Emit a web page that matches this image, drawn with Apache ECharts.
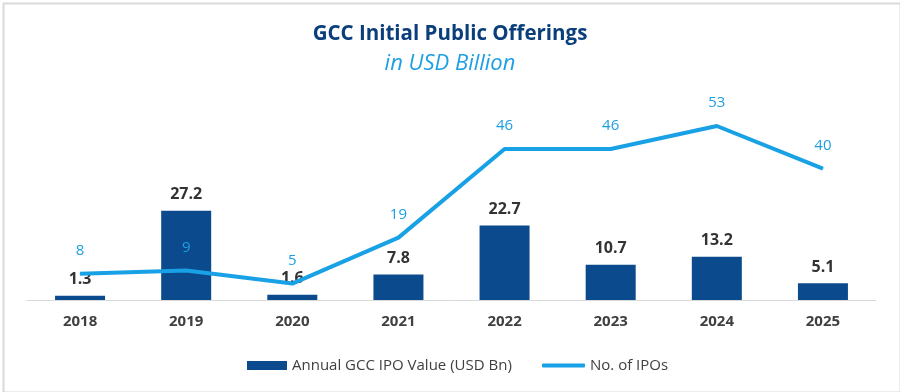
<!DOCTYPE html>
<html>
<head>
<meta charset="utf-8">
<script src="https://cdn.jsdelivr.net/npm/echarts@6/dist/echarts.min.js"></script>
<style>html,body{margin:0;padding:0;background:#fff}#c{width:900px;height:392px}</style>
</head>
<body>
<div id="c"></div>
<script>
const years = ['2018','2019','2020','2021','2022','2023','2024','2025'];
const ipoValue = [1.3, 27.2, 1.6, 7.8, 22.7, 10.7, 13.2, 5.1];
const ipoCount = [8, 9, 5, 19, 46, 46, 53, 40];

const FONT = 'Open Sans';
const BAR_NAME = 'Annual GCC IPO Value (USD Bn)';
const LINE_NAME = 'No. of IPOs';
const chart = echarts.init(document.getElementById('c'), null, {renderer: 'canvas'});
chart.setOption({
  animation: false,
  backgroundColor: '#fff',
  textStyle: {fontFamily: FONT},
  graphic: [{
    type: 'rect', left: 1, top: 1, silent: true,
    shape: {width: 897, height: 389},
    style: {fill: 'none', stroke: '#d9d9d9', lineWidth: 2}
  }],
  title: [{
    text: 'GCC Initial Public Offerings', left: 'center', top: 19,
    textStyle: {fontFamily: FONT, fontSize: 20.5, fontWeight: 'bold', color: '#0b3f7c'}
  }, {
    text: 'in USD Billion', left: 'center', top: 48,
    textStyle: {fontFamily: FONT, fontSize: 22, fontStyle: 'italic', fontWeight: 'normal', color: '#1c9fe3'}
  }],
  legend: [{
    left: 242, top: 353, itemWidth: 40, itemHeight: 9, itemGap: 0,
    textStyle: {fontFamily: FONT, fontSize: 15, color: '#404040'},
    data: [{name: BAR_NAME, icon: 'rect'}]
  }, {
    left: 537, top: 353, itemWidth: 43, itemHeight: 4, itemGap: 0,
    textStyle: {fontFamily: FONT, fontSize: 15, color: '#404040'},
    data: [{name: LINE_NAME, icon: 'roundRect'}]
  }],
  grid: {left: 27, right: 24, top: 103, bottom: 92},
  xAxis: {
    type: 'category', data: years,
    axisTick: {show: false},
    axisLine: {lineStyle: {color: '#d9d9d9', width: 1}},
    axisLabel: {fontFamily: FONT, fontSize: 15, fontWeight: 'bold', color: '#404040', margin: 14}
  },
  yAxis: [
    {type: 'value', min: 0, max: 60, show: false, splitLine: {show: false}},
    {type: 'value', min: 0, max: 60, show: false, splitLine: {show: false}}
  ],
  series: [{
    name: BAR_NAME, type: 'bar', data: ipoValue,
    barWidth: 50, itemStyle: {color: '#0b4a8c'},
    label: {show: true, position: 'top', distance: 8, fontFamily: FONT, fontSize: 16, fontWeight: 'bold', color: '#333333'}
  }, {
    name: LINE_NAME, type: 'line', yAxisIndex: 1, data: ipoCount,
    symbol: 'circle', symbolSize: 1, showSymbol: true,
    lineStyle: {color: '#19a1e6', width: 4}, itemStyle: {color: '#19a1e6'},
    label: {show: true, position: 'top', distance: 15, fontFamily: FONT, fontSize: 15, color: '#1c9fe3'}
  }]
});
</script>
</body>
</html>
